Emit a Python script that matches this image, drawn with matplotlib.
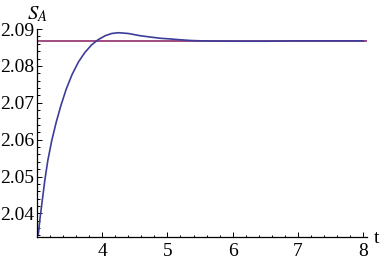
import matplotlib.pyplot as plt
from matplotlib.ticker import MultipleLocator, FormatStrFormatter

# S_A(t)
t_vals = [3.025, 3.05, 3.087, 3.125, 3.17, 3.23, 3.30, 3.37, 3.45, 3.54,
          3.64, 3.74, 3.84, 3.94, 4.05, 4.15, 4.25, 4.4, 4.58, 4.75,
          4.89, 5.05, 5.19, 5.35, 5.5, 6.0, 6.5, 7.0, 7.5, 8.0]
s_vals = [2.0343, 2.0385, 2.0437, 2.0490, 2.0543, 2.0597, 2.0648, 2.0692, 2.0736, 2.0776,
          2.0811, 2.0837, 2.0857, 2.0871, 2.0882, 2.0888, 2.0890, 2.0888, 2.0882, 2.0878,
          2.0875, 2.0873, 2.0871, 2.0869, 2.0868, 2.0867, 2.0867, 2.0868, 2.0868, 2.0868]
s_eq = 2.0868          # steady state (horizontal line)
t_range = [3.0, 8.05]

plt.rcParams['font.family'] = ['Liberation Serif', 'DejaVu Serif']
plt.rcParams['mathtext.fontset'] = 'stix'

fig = plt.figure(figsize=(3.82, 2.64), dpi=100)
ax = fig.add_axes([0.096, 0.101, 0.864, 0.789])

ax.plot(t_range, [s_eq, s_eq], color='#993d74', lw=1.3)
ax.plot(t_vals, s_vals, color='#3d3d99', lw=1.2)

ax.set_xlim(*t_range)
ax.set_ylim(2.0335, 2.0899)

for s in ['top', 'right']:
    ax.spines[s].set_visible(False)
for s in ['left', 'bottom']:
    ax.spines[s].set_linewidth(0.9)

ax.xaxis.set_minor_locator(MultipleLocator(0.2))
ax.yaxis.set_minor_locator(MultipleLocator(0.002))
ax.yaxis.set_major_formatter(FormatStrFormatter('%.2f'))
ax.set_xticks([4, 5, 6, 7, 8])
ax.set_yticks([2.04, 2.05, 2.06, 2.07, 2.08, 2.09])

ax.tick_params(which='both', direction='in', labelsize=14, width=0.7)
ax.tick_params(which='major', length=3.5)
ax.tick_params(which='minor', length=1.8)
ax.tick_params(axis='x', pad=4)
ax.tick_params(axis='y', pad=2)

fig.text(27 / 382, 1 - 19 / 264, r'$S_A$', fontsize=15, va='baseline', ha='left')
fig.text(374 / 382, 1 - 243 / 264, 't', fontsize=14, va='baseline', ha='left')

fig.savefig('out.png', dpi=100)
